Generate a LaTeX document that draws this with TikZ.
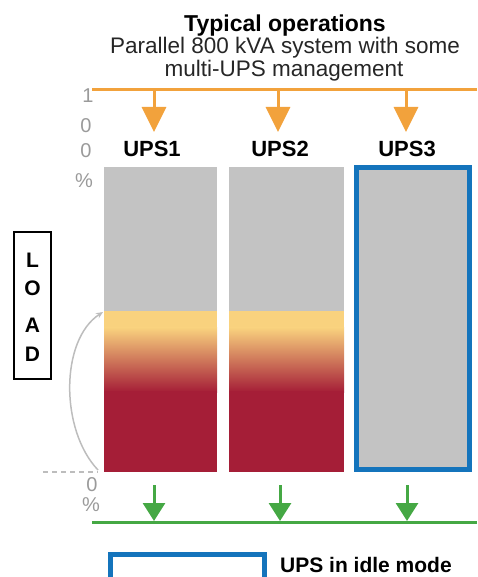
\documentclass[tikz,border=0pt]{standalone}
\usepackage{fontspec}
\setmainfont{Liberation Sans}
\usetikzlibrary{arrows.meta}
\definecolor{barGray}{HTML}{C3C3C3}
\definecolor{loadYellow}{HTML}{F9D27E}
\definecolor{loadRed}{HTML}{A51E37}
\definecolor{feedOrange}{HTML}{F2A23C}
\definecolor{outGreen}{HTML}{45A844}
\definecolor{idleBlue}{HTML}{1474BC}
\definecolor{scaleGray}{HTML}{9A9A9A}
\definecolor{arcGray}{HTML}{BDBDBD}
\tikzset{
  titlefont/.style={font=\bfseries\fontsize{23}{26}\selectfont, anchor=base, inner sep=0pt},
  subfont/.style={font=\fontsize{22.5}{24}\selectfont, anchor=base, inner sep=0pt, text=black!85},
  upsfont/.style={font=\bfseries\fontsize{22}{24}\selectfont, anchor=base, inner sep=0pt},
  scalefont/.style={font=\fontsize{20}{22}\selectfont, anchor=base, inner sep=0pt, text=scaleGray},
  loadfont/.style={font=\bfseries\fontsize{21}{22}\selectfont, anchor=base, inner sep=0pt},
  orangearrow/.style={draw=feedOrange, line width=3pt, -{Triangle[length=25pt,width=24pt]}},
  greenarrow/.style={draw=outGreen, line width=3pt, -{Triangle[length=18pt,width=22pt]}},
  busline/.style={line width=3pt},
}
\begin{document}
\begin{tikzpicture}[x=1pt,y=-1pt]
\useasboundingbox (0,0) rectangle (477,577);
\clip (0,0) rectangle (477,577);

% titles
\node[titlefont] (title) at (285,32) {Typical operations};
\node[subfont] (sub1) at (285,54) {Parallel 800 kVA system with some};
\node[subfont] (sub2) at (284,77) {multi-UPS management};

% scale 100%
\node[scalefont] (s1) at (88,103) {1};
\node[scalefont] (s2) at (86,133) {0};
\node[scalefont] (s3) at (86,158) {0};
\node[scalefont] (s4) at (84,187) {\%};

% input bus
\coordinate (inL) at (92,90);
\coordinate (inR) at (477,90);
\draw[busline, feedOrange] (inL) -- (inR);
\foreach \x/\n in {154/1,278/2,406/3}{
  \coordinate (in\n) at (\x,90);
  \coordinate (inT\n) at (\x,132);
  \draw[orangearrow] (in\n) -- (inT\n);
}

% UPS labels
\node[upsfont] (ups1) at (152,157) {UPS1};
\node[upsfont] (ups2) at (280,157) {UPS2};
\node[upsfont] (ups3) at (407,157) {UPS3};

% bars UPS1 and UPS2
\foreach \a/\b in {104/217,229/344}{
  \fill[barGray] (\a,167) rectangle (\b,312);
  \fill[loadYellow] (\a,311) rectangle (\b,328);
  \shade[top color=loadYellow, bottom color=loadRed] (\a,327.5) rectangle (\b,392);
  \fill[loadRed] (\a,391) rectangle (\b,472);
}

% UPS3 idle
\fill[barGray] (356.5,167.5) rectangle (469.5,469.5);
\draw[idleBlue, line width=5pt] (356.5,167.5) rectangle (469.5,469.5);

% LOAD label
\draw[black, line width=1.5pt] (14,232) rectangle (51,379);
\node[loadfont] (lL) at (32.5,267) {L};
\node[loadfont] (lO) at (32.5,295) {O};
\node[loadfont] (lA) at (32.5,332) {A};
\node[loadfont] (lD) at (32.5,361) {D};

% load arc
\coordinate (arcB) at (98,470);
\coordinate (arcT) at (103,312);
\draw[arcGray, line width=1.5pt, -{Stealth[length=7pt,width=6pt]}] (arcB) .. controls (60,430) and (60,340) .. (arcT);
\coordinate (dashL) at (43,472);
\coordinate (dashR) at (98,472);
\draw[arcGray, line width=1.5pt, dash pattern=on 5pt off 4pt] (dashL) -- (dashR);

% scale 0%
\node[scalefont] (z1) at (92,491) {0};
\node[scalefont] (z2) at (91,511) {\%};

% output bus
\coordinate (outL) at (92,522);
\coordinate (outR) at (477,522);
\draw[busline, outGreen] (outL) -- (outR);
\foreach \x/\n in {154/1,280/2,407/3}{
  \coordinate (o\n) at (\x,485);
  \coordinate (oT\n) at (\x,521);
  \draw[greenarrow] (o\n) -- (oT\n);
}

% legend
\draw[idleBlue, line width=5pt] (110.5,554.5) rectangle (264.5,590);
\node[upsfont, font=\bfseries\fontsize{21}{22}\selectfont, anchor=base west] (leg) at (280,572) {UPS in idle mode};
\end{tikzpicture}
\end{document}
